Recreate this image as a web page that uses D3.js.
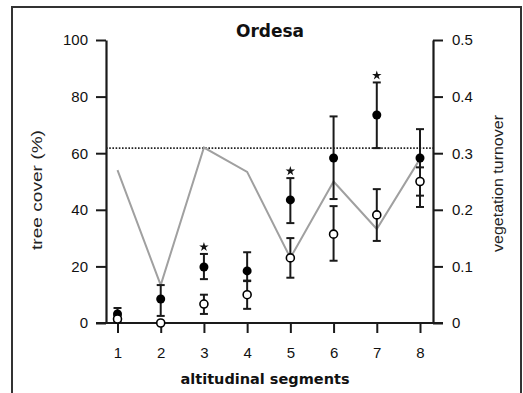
<!DOCTYPE html>
<html><head><meta charset="utf-8">
<script src="https://cdn.jsdelivr.net/npm/d3@7"></script>
<style>
html,body{margin:0;padding:0;background:#fff;}
svg{display:block;}
</style></head>
<body>
<script>
// ---- data ----
const segments = [1, 2, 3, 4, 5, 6, 7, 8];
const turnover = [0.27, 0.067, 0.31, 0.267, 0.115, 0.25, 0.166, 0.29];
const filledMean = [3.2, 8.5, 19.8, 18.4, 43.5, 58.3, 73.5, 58.3];
const filledHi   = [5.3, 13.4, 24.4, 25.0, 51.2, 73.0, 85.0, 68.5];
const filledLo   = [1.5, 2.5, 15.5, 14.8, 35.3, 43.8, 61.8, 45.0];
const openMean = [1.4, 0, 6.7, 10.0, 23.0, 31.4, 38.2, 50.0];
const openHi   = [2.5, 0, 10.0, 15.0, 30.0, 41.3, 47.3, 55.0];
const openLo   = [0.5, 0, 3.2, 5.0, 16.0, 22.0, 29.0, 41.0];
const significant = [3, 5, 7];
const thresholdTurnover = 0.309;
const leftTicks = [0, 20, 40, 60, 80, 100];
const rightTicks = [0, 0.1, 0.2, 0.3, 0.4, 0.5];
const titleText = "Ordesa";
const xLabel = "altitudinal segments";
const yLabel = "tree cover (%)";
const y2Label = "vegetation turnover";

const W = 523, H = 393;
const svg = d3.select("body").append("svg").attr("width", W).attr("height", H);

// frame
svg.append("path")
  .attr("d", `M12,${H+2} L12,7 L521,7 L521,${H+2}`)
  .attr("fill", "none").attr("stroke", "#333").attr("stroke-width", 2);

const plotL = 106, plotR = 433, plotT = 40, plotB = 323;
const x = d3.scaleLinear().domain([1, 8]).range([117.5, 420]);
const y = d3.scaleLinear().domain([0, 100]).range([plotB, plotT]);
const y2 = d3.scaleLinear().domain([0, 0.5]).range([plotB, plotT]);

const ink = "#1a1a1a";
const tickFont = "'Liberation Sans', Arial, sans-serif";

// left axis
const gL = svg.append("g").attr("transform", `translate(${plotL},0)`)
  .call(d3.axisLeft(y).tickValues(leftTicks).tickSize(10).tickSizeOuter(0).tickPadding(8));
// right axis
const gR = svg.append("g").attr("transform", `translate(${plotR},0)`)
  .call(d3.axisRight(y2).tickValues(rightTicks).tickSize(10).tickSizeOuter(0).tickPadding(9)
    .tickFormat(d => d === 0 ? "0" : d3.format(".1f")(d)));
// bottom axis
const gB = svg.append("g").attr("transform", `translate(0,${plotB})`)
  .call(d3.axisBottom(x).tickValues(segments).tickFormat(d3.format("d"))
    .tickSize(10).tickSizeOuter(0).tickPadding(14));
gB.select(".domain").remove();
svg.append("line").attr("x1", plotL - 10).attr("x2", plotR + 10)
  .attr("y1", plotB).attr("y2", plotB).attr("stroke", ink).attr("stroke-width", 2.2);

[gL, gR, gB].forEach(g => {
  g.selectAll(".domain").attr("stroke", ink).attr("stroke-width", 2.2);
  g.selectAll(".tick line").attr("stroke", ink).attr("stroke-width", 2);
  g.selectAll(".tick text").attr("fill", "#111").style("font-family", tickFont).style("font-size", "15px");
});

// dotted threshold line
svg.append("line").attr("x1", plotL).attr("x2", plotR)
  .attr("y1", y2(thresholdTurnover)).attr("y2", y2(thresholdTurnover))
  .attr("stroke", "#222").attr("stroke-width", 1.6).attr("stroke-dasharray", "1.6,1.6");

// gray turnover line
svg.append("path")
  .datum(segments.map((s, i) => [s, turnover[i]]))
  .attr("d", d3.line().x(d => x(d[0])).y(d => y2(d[1])))
  .attr("fill", "none").attr("stroke", "#a0a0a0").attr("stroke-width", 2);

function errorBars(mean, lo, hi) {
  const g = svg.append("g").attr("stroke", ink).attr("stroke-width", 2);
  segments.forEach((s, i) => {
    if (hi[i] === lo[i]) return;
    const cx = x(s);
    g.append("line").attr("x1", cx).attr("x2", cx).attr("y1", y(lo[i])).attr("y2", y(hi[i]));
    g.append("line").attr("x1", cx - 4).attr("x2", cx + 4).attr("y1", y(lo[i])).attr("y2", y(lo[i]));
    g.append("line").attr("x1", cx - 4).attr("x2", cx + 4).attr("y1", y(hi[i])).attr("y2", y(hi[i]));
  });
}
errorBars(filledMean, filledLo, filledHi);
errorBars(openMean, openLo, openHi);

svg.append("g").selectAll("circle").data(segments).join("circle")
  .attr("cx", d => x(d)).attr("cy", (d, i) => y(filledMean[i])).attr("r", 4.5)
  .attr("fill", "#000");
svg.append("g").selectAll("circle").data(segments).join("circle")
  .attr("cx", d => x(d)).attr("cy", (d, i) => y(openMean[i])).attr("r", 4)
  .attr("fill", "#fff").attr("stroke", "#000").attr("stroke-width", 1.6);

// significance stars
svg.append("g").selectAll("path").data(significant).join("path")
  .attr("d", d3.symbol().type(d3.symbolStar).size(28))
  .attr("transform", d => `translate(${x(d)},${y(filledHi[segments.indexOf(d)]) - 7})`)
  .attr("fill", "#111");

// title
svg.append("text").attr("x", 270).attr("y", 37).attr("text-anchor", "middle")
  .style("font-family", "'DejaVu Sans', sans-serif").style("font-weight", "bold")
  .style("font-size", "17px").attr("fill", "#111").text(titleText);

// x label
svg.append("text").attr("x", 265).attr("y", 384).attr("text-anchor", "middle")
  .style("font-family", "'DejaVu Sans', sans-serif").style("font-weight", "bold")
  .style("font-size", "14.5px").attr("fill", "#111").text(xLabel);

// y labels
svg.append("text").attr("transform", "translate(42,190) rotate(-90)").attr("text-anchor", "middle")
  .style("font-family", tickFont).style("font-size", "14px").attr("fill", "#222")
  .attr("textLength", 120).attr("lengthAdjust", "spacingAndGlyphs").text(yLabel);
svg.append("text").attr("transform", "translate(503,183.5) rotate(-90)").attr("text-anchor", "middle")
  .style("font-family", tickFont).style("font-size", "14px").attr("fill", "#222")
  .attr("textLength", 137).attr("lengthAdjust", "spacingAndGlyphs").text(y2Label);
</script>
</body></html>
